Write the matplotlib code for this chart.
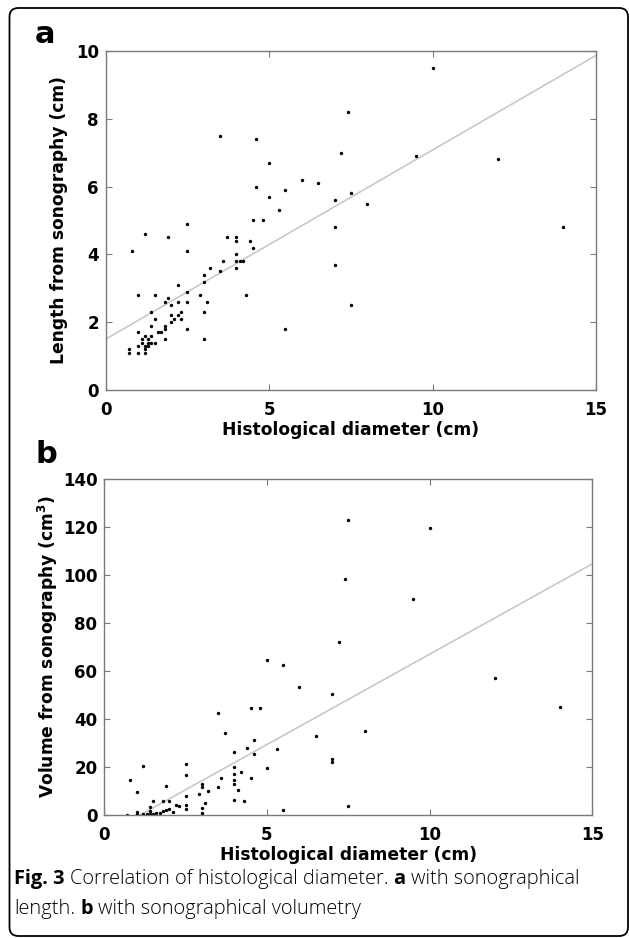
import numpy as np
import matplotlib
matplotlib.use("Agg")
import matplotlib.pyplot as plt
from matplotlib.patches import FancyBboxPatch

# panel a: histological diameter (cm) vs length from sonography (cm)
hist_a = [3.5, 4.6, 7.4, 7.2, 5.0, 6.0, 6.5, 4.6, 5.5, 7.5, 5.0, 7.0, 5.3, 4.5, 4.8,
          7.0, 2.5, 1.2, 1.9, 3.7, 4.0, 4.0, 4.4, 4.5, 0.8, 2.5, 4.0, 3.6, 4.0, 4.1,
          4.2, 7.0, 3.2, 4.0, 3.5, 3.0, 3.0, 2.2, 2.5, 1.0, 1.5, 2.9, 4.3, 1.9, 1.8,
          2.2, 2.5, 3.1, 2.0, 1.4, 2.3, 3.0, 2.0, 2.2, 2.1, 1.5, 2.3, 2.0, 1.4, 1.8,
          1.8, 2.5, 5.5, 1.0, 1.6, 1.7, 1.2, 1.4, 1.8, 3.0, 1.1, 1.3, 1.1, 1.3, 1.4,
          1.5, 1.0, 1.2, 1.3, 1.2, 0.7, 0.7, 1.0, 1.2, 10.0, 9.5, 12.0, 8.0, 14.0, 7.5]
length_a = [7.5, 7.4, 8.2, 7.0, 6.7, 6.2, 6.1, 6.0, 5.9, 5.8, 5.7, 5.6, 5.3, 5.0, 5.0,
            4.8, 4.9, 4.6, 4.5, 4.5, 4.5, 4.4, 4.4, 4.2, 4.1, 4.1, 4.0, 3.8, 3.8, 3.8,
            3.8, 3.7, 3.6, 3.6, 3.5, 3.4, 3.2, 3.1, 2.9, 2.8, 2.8, 2.8, 2.8, 2.7, 2.6,
            2.6, 2.6, 2.6, 2.5, 2.3, 2.3, 2.3, 2.2, 2.2, 2.1, 2.1, 2.1, 2.0, 1.9, 1.9,
            1.8, 1.8, 1.8, 1.7, 1.7, 1.7, 1.6, 1.6, 1.5, 1.5, 1.5, 1.5, 1.4, 1.4, 1.4,
            1.4, 1.3, 1.3, 1.3, 1.2, 1.2, 1.1, 1.1, 1.1, 9.5, 6.9, 6.8, 5.5, 4.8, 2.5]

# panel b: histological diameter (cm) vs volume from sonography (cm3)
hist_b = [7.5, 10.0, 7.4, 9.5, 7.2, 5.0, 5.5, 12.0, 6.0, 7.0, 14.0, 4.5, 4.8, 3.5,
          8.0, 3.7, 6.5, 4.6, 4.4, 5.3, 4.0, 4.6, 7.0, 7.0, 2.5, 1.2, 4.0, 5.0, 4.2,
          4.0, 2.5, 0.8, 3.6, 4.5, 4.0, 4.0, 3.0, 1.9, 3.5, 3.0, 4.1, 3.2, 1.0, 2.9,
          2.5, 4.0, 4.3, 1.5, 1.8, 2.0, 3.1, 2.5, 2.2, 2.3, 7.5, 1.4, 3.0, 2.5, 5.5,
          2.0, 1.9, 1.8, 2.1, 1.4, 1.0, 1.6, 1.7, 1.0, 1.2, 1.3, 1.4, 1.5, 0.7, 3.0, 3.0]
volume_b = [123.0, 119.4, 98.5, 90.0, 72.0, 64.5, 62.5, 57.0, 53.5, 50.5, 45.0, 44.7,
            44.7, 42.5, 35.1, 34.0, 33.0, 31.4, 27.8, 27.5, 26.4, 25.4, 23.3, 21.9,
            21.3, 20.3, 19.9, 19.4, 17.9, 17.2, 16.8, 14.7, 15.6, 15.6, 14.7, 12.8,
            12.8, 11.9, 11.8, 11.5, 10.4, 10.0, 9.7, 8.9, 7.9, 6.4, 6.0, 6.0, 6.0,
            6.0, 5.1, 4.3, 4.2, 3.9, 3.8, 3.4, 2.9, 2.3, 2.1, 2.4, 2.1, 1.7, 1.2,
            1.8, 1.4, 1.0, 0.7, 0.4, 0.3, 0.3, 0.3, 0.3, 0.0, 0.7, 0.0]

# regression lines (slope, intercept)
fit_a = (0.558, 1.50)
fit_b = (7.53, -8.3)

x_ticks = [0, 5, 10, 15]
y_ticks_a = [0, 2, 4, 6, 8, 10]
y_ticks_b = [0, 20, 40, 60, 80, 100, 120, 140]

plt.rcParams['font.family'] = ['DejaVu Sans']
plt.rcParams['font.weight'] = 'bold'
plt.rcParams['axes.labelweight'] = 'bold'

W, H = 629, 938
fig = plt.figure(figsize=(W / 100, H / 100), dpi=100)


def box(left, top, right, bottom):
    # pixel box -> figure fraction rect
    return [left / W, 1 - bottom / H, (right - left) / W, (bottom - top) / H]


def draw_panel(ax, x, y, fit, yticks, ylabel, ylim, ylab_x):
    xs = np.array([0, 15])
    ax.plot(xs, fit[1] + fit[0] * xs, color='#c8c8c8', lw=1.2, zorder=1)
    ax.scatter(x, y, s=6, c='black', linewidths=0, zorder=2)
    ax.set_xlim(0, 15)
    ax.set_ylim(*ylim)
    ax.set_xticks(x_ticks)
    ax.set_yticks(yticks)
    for s in ax.spines.values():
        s.set_color('#7a7a7a')
        s.set_linewidth(1.0)
    ax.tick_params(direction='in', length=4, width=0.8, color='#7a7a7a',
                   top=True, right=True, labelsize=12, labelcolor='black')
    ax.tick_params(axis='x', pad=8)
    ax.tick_params(axis='y', pad=5)
    ax.set_xlabel('Histological diameter (cm)', fontsize=12.3)
    ax.set_ylabel(ylabel, fontsize=12.3)
    ax.xaxis.set_label_coords(0.5, -0.092)
    ax.yaxis.set_label_coords(ylab_x, 0.5)


ax_a = fig.add_axes(box(105.7, 51, 596, 390))
draw_panel(ax_a, hist_a, length_a, fit_a, y_ticks_a,
           'Length from sonography (cm)', (0, 10), -0.077)

ax_b = fig.add_axes(box(104.3, 479, 592.3, 815))
draw_panel(ax_b, hist_b, volume_b, fit_b, y_ticks_b,
           r'Volume from sonography (cm$^{\mathbf{3}}$)', (0, 140), -0.091)

fig.text(35 / W, 1 - 43 / H, 'a', fontsize=22, fontweight='bold', va='baseline')
fig.text(35 / W, 1 - 463 / H, 'b', fontsize=22, fontweight='bold', va='baseline')

# outer rounded frame
frame = FancyBboxPatch((9.5 / W, 2 / H), (628 - 9.5) / W, (930 - 2) / H,
                       boxstyle='round,pad=0,rounding_size=0.014',
                       mutation_aspect=W / H,
                       transform=fig.transFigure, fill=False,
                       edgecolor='black', lw=1.3)
fig.patches.append(frame)

# caption with mixed weights
renderer = fig.canvas.get_renderer()
cap_font = dict(fontsize=14.4, family=['Open Sans', 'DejaVu Sans'])


def text_width(s, weight):
    t = fig.text(0, 0, s, fontweight=weight, **cap_font)
    w = t.get_window_extent(renderer=renderer).width
    t.remove()
    return w


space = text_width('a a', 'light') - text_width('aa', 'light')


def rich_line(x_px, y_px, parts):
    x = x_px
    for txt, wt in parts:
        t = fig.text(x / W, 1 - y_px / H, txt, fontweight=wt, va='baseline',
                     ha='left', **cap_font)
        x += t.get_window_extent(renderer=renderer).width + space


rich_line(14, 884, [('Fig. 3', 'bold'), ('Correlation of histological diameter.', 'light'),
                    ('a', 'bold'), ('with sonographical', 'light')])
rich_line(14, 914, [('length.', 'light'), ('b', 'bold'), ('with sonographical volumetry', 'light')])

fig.savefig('out.png', dpi=100)
